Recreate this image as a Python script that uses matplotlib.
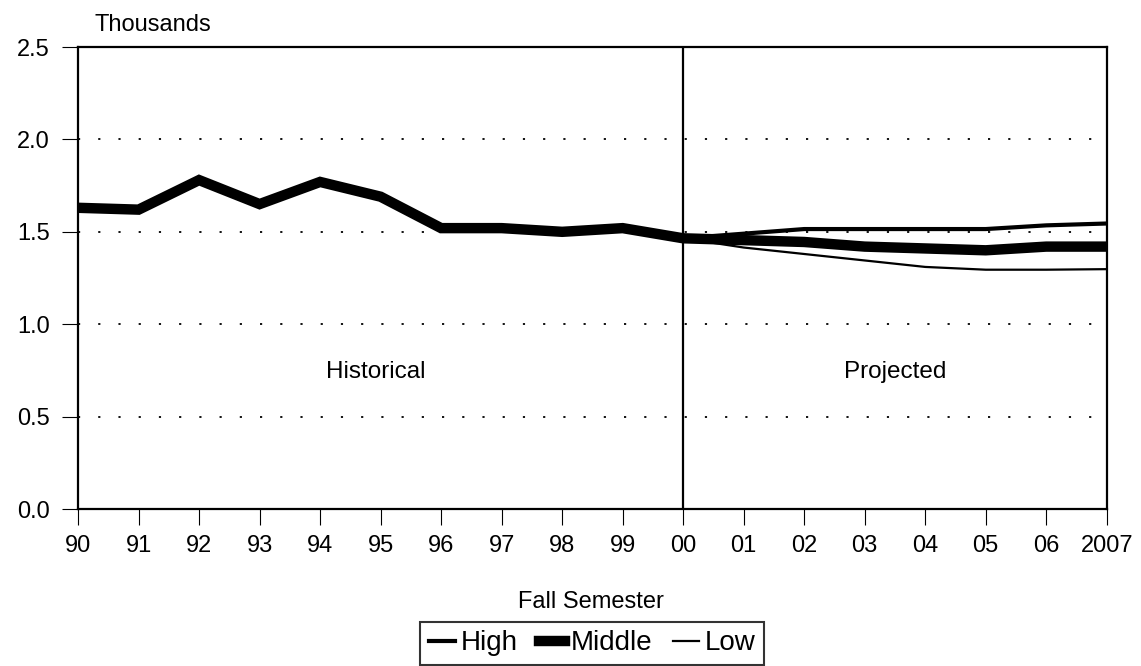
import numpy as np
import matplotlib.pyplot as plt

plt.rcParams['font.family'] = ['Liberation Sans', 'DejaVu Sans']

years = ['90', '91', '92', '93', '94', '95', '96', '97', '98', '99',
         '00', '01', '02', '03', '04', '05', '06', '2007']

# historical enrollment (thousands), 90 - 00
hist_middle = [1.63, 1.62, 1.78, 1.65, 1.77, 1.69, 1.52, 1.52, 1.50, 1.52, 1.465]

# projections, 00 - 2007
proj_high = [1.465, 1.49, 1.515, 1.515, 1.515, 1.515, 1.535, 1.545]
proj_middle = [1.465, 1.455, 1.445, 1.42, 1.41, 1.40, 1.42, 1.42]
proj_low = [1.465, 1.415, 1.38, 1.345, 1.31, 1.295, 1.295, 1.298]

x = np.arange(len(years))
x_proj = x[len(hist_middle) - 1:]

fig = plt.figure(figsize=(11.41, 6.66), dpi=100)
ax = fig.add_axes([0.0684, 0.2357, 0.9016, 0.6937])

for yv in [0.5, 1.0, 1.5, 2.0]:
    ax.axhline(yv, color='black', lw=1.3, ls=(0, (1.2, 10)), zorder=1)

ax.axvline(10, color='black', lw=1.6, zorder=2)

ax.plot(x_proj, proj_high, color='black', lw=3.0, zorder=3)
ax.plot(x_proj, proj_low, color='black', lw=1.6, zorder=3)
middle = hist_middle + proj_middle[1:]
ax.plot(x, middle, color='black', lw=7.5, solid_joinstyle='miter', zorder=4)

ax.set_xlim(0, 17)
ax.set_ylim(0, 2.5)
ax.set_xticks(x)
ax.set_xticklabels(years)
ax.set_yticks([0.0, 0.5, 1.0, 1.5, 2.0, 2.5])
ax.set_yticklabels(['0.0', '0.5', '1.0', '1.5', '2.0', '2.5'])
ax.tick_params(axis='both', direction='out', length=11.5, width=0.8,
               labelsize=17, colors='black')
ax.tick_params(axis='y', pad=9)
ax.tick_params(axis='x', pad=7)
for s in ax.spines.values():
    s.set_linewidth(1.6)

ax.text(4.92, 0.743, 'Historical', ha='center', va='center', fontsize=17.5)
ax.text(13.5, 0.743, 'Projected', ha='center', va='center', fontsize=17.5)

fig.text(0.083, 0.962, 'Thousands', ha='left', va='center', fontsize=17)
fig.text(0.518, 0.096, 'Fall Semester', ha='center', va='center', fontsize=17)

h1, = ax.plot([], [], color='black', lw=3.0)
h2, = ax.plot([], [], color='black', lw=7.5)
h3, = ax.plot([], [], color='black', lw=1.6)
leg = fig.legend([h1, h2, h3], ['High', 'Middle', 'Low'], loc='upper center',
                 bbox_to_anchor=(0.519, 0.066), ncol=3, fontsize=20,
                 frameon=True, fancybox=False, handlelength=0.95,
                 handletextpad=0.2, columnspacing=0.75, borderpad=0.3,
                 borderaxespad=0)
leg.get_frame().set_edgecolor('black')
leg.get_frame().set_linewidth(1.5)

plt.savefig('out.png', dpi=100)
